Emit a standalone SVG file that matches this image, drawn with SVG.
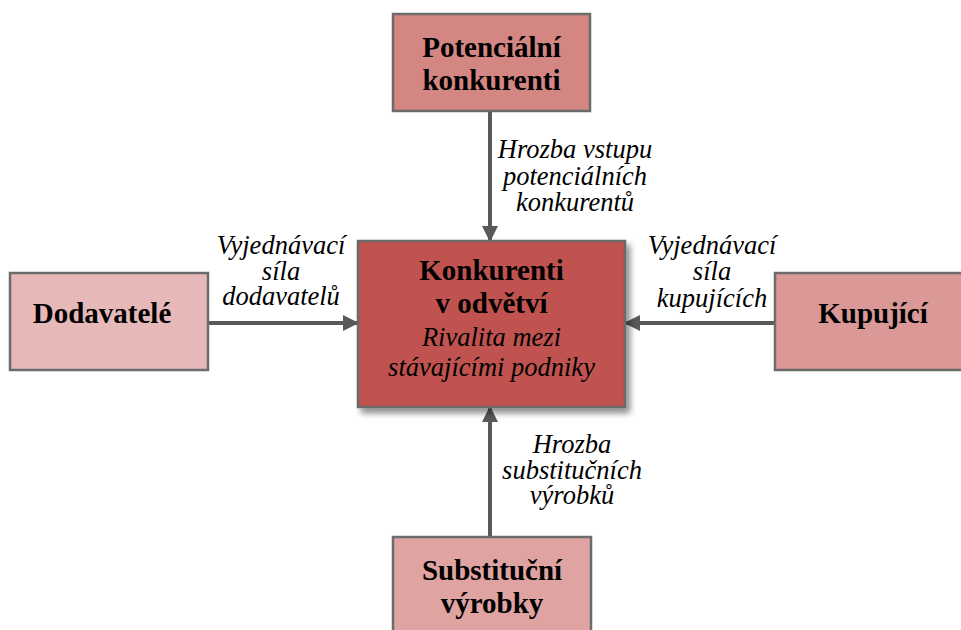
<svg xmlns="http://www.w3.org/2000/svg" width="961" height="630" viewBox="0 0 961 630">
<style>
.box{stroke:#6b6b6b;stroke-width:2.5}
.t{font-family:"Liberation Serif","DejaVu Serif",serif;font-weight:bold;font-size:29px;fill:#000;text-anchor:middle}
.i{font-family:"Liberation Serif","DejaVu Serif",serif;font-style:italic;font-size:26.5px;fill:#000;text-anchor:middle}
.c{stroke:#595959;stroke-width:4;fill:none}
</style>
<defs>
<marker id="arr" markerWidth="16" markerHeight="16" refX="14" refY="8" orient="auto" markerUnits="userSpaceOnUse" viewBox="0 0 16 16">
<path d="M0,0 L16,8 L0,16 Z" fill="#595959"/>
</marker>
<filter id="sh" x="-10%" y="-10%" width="130%" height="130%">
<feGaussianBlur in="SourceAlpha" stdDeviation="3"/>
<feOffset dx="4" dy="5"/>
<feComponentTransfer><feFuncA type="linear" slope="0.45"/></feComponentTransfer>
<feMerge><feMergeNode/><feMergeNode in="SourceGraphic"/></feMerge>
</filter>
</defs>
<rect width="961" height="630" fill="#fff"/>
<g id="connectors">
<line class="c" x1="490" y1="112" x2="490" y2="240" marker-end="url(#arr)"/>
<line class="c" x1="209" y1="323" x2="357" y2="323" marker-end="url(#arr)"/>
<line class="c" x1="774" y1="323" x2="626" y2="323" marker-end="url(#arr)"/>
<line class="c" x1="490" y1="536" x2="490" y2="408" marker-end="url(#arr)"/>
<g id="label-top">
<text class="i" x="575" y="158">Hrozba vstupu</text>
<text class="i" x="575" y="185">potenciálních</text>
<text class="i" x="575" y="211">konkurentů</text>
</g>
<g id="label-left">
<text class="i" x="281" y="254">Vyjednávací</text>
<text class="i" x="281" y="280">síla</text>
<text class="i" x="281" y="305">dodavatelů</text>
</g>
<g id="label-right">
<text class="i" x="712" y="254">Vyjednávací</text>
<text class="i" x="712" y="280">síla</text>
<text class="i" x="712" y="307">kupujících</text>
</g>
<g id="label-bottom">
<text class="i" x="572" y="453">Hrozba</text>
<text class="i" x="572" y="479">substitučních</text>
<text class="i" x="572" y="504">výrobků</text>
</g>
</g>
<g id="potencialni">
<rect class="box" x="393" y="14" width="197" height="97" fill="#d48682"/>
<text class="t" x="491.5" y="57">Potenciální</text>
<text class="t" x="491.5" y="90">konkurenti</text>
</g>
<g id="konkurenti">
<rect class="box" x="358" y="241" width="267" height="166" fill="#c0524f" filter="url(#sh)"/>
<text class="t" x="491.5" y="280">Konkurenti</text>
<text class="t" x="491.5" y="313">v odvětví</text>
<text class="i" x="491.5" y="346">Rivalita mezi</text>
<text class="i" x="491.5" y="376">stávajícími podniky</text>
</g>
<g id="dodavatele">
<rect class="box" x="10" y="273" width="198" height="97" fill="#e6b9b8"/>
<text class="t" x="102" y="323">Dodavatelé</text>
</g>
<g id="kupujici">
<rect class="box" x="775" y="273" width="195" height="97" fill="#da9896"/>
<text class="t" x="873" y="323">Kupující</text>
</g>
<g id="substitucni">
<rect class="box" x="393" y="537" width="198" height="100" fill="#dfa3a2"/>
<text class="t" x="492" y="580">Substituční</text>
<text class="t" x="492" y="613">výrobky</text>
</g>
</svg>
